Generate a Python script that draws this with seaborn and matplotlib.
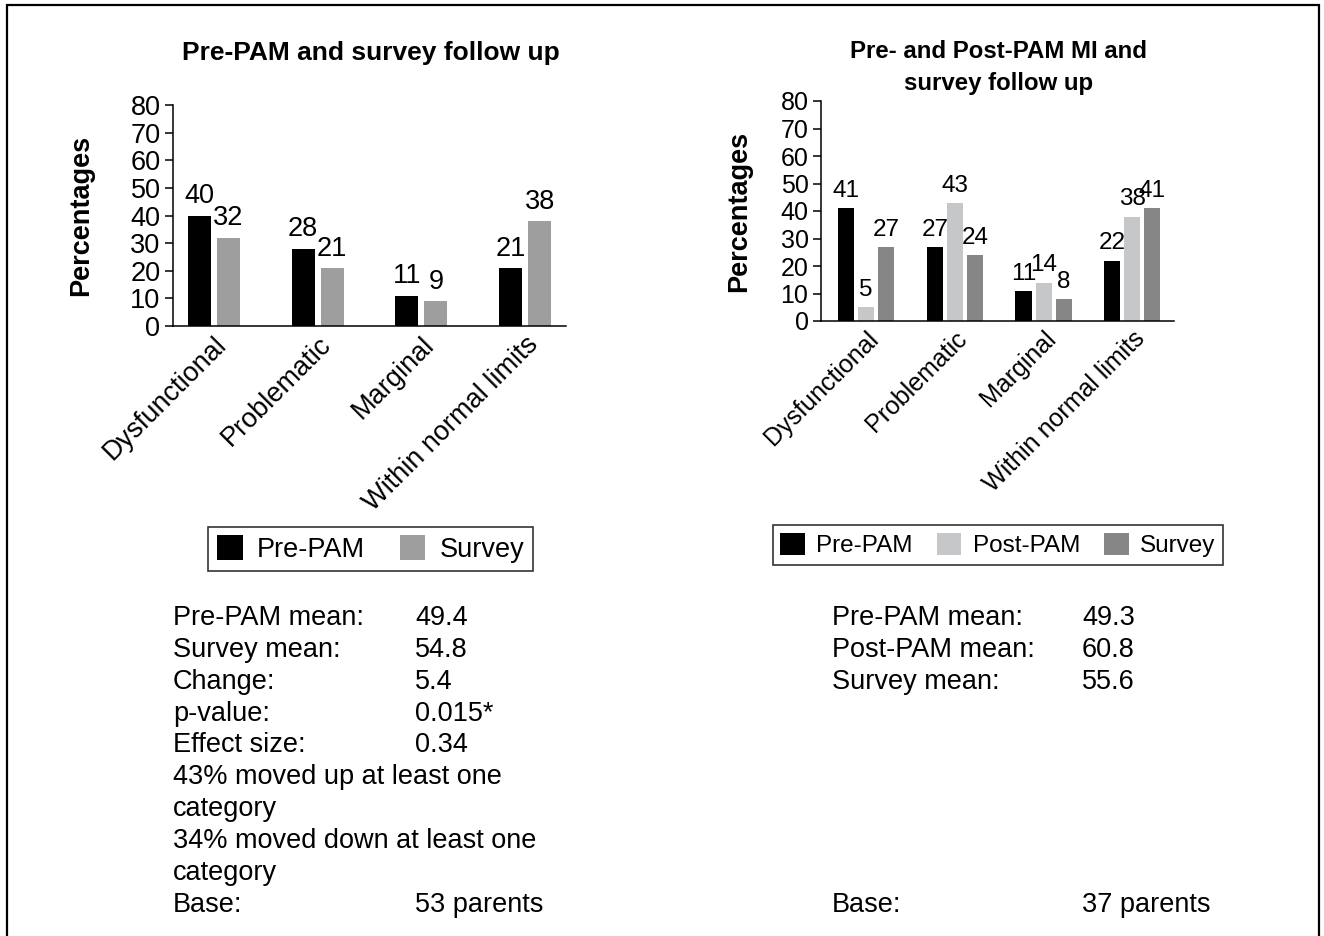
import matplotlib
matplotlib.use("Agg")
import matplotlib.pyplot as plt
from matplotlib.patches import Patch, Rectangle
import pandas as pd
import seaborn as sns

# ---- data ----
categories = ["Dysfunctional", "Problematic", "Marginal", "Within normal limits"]

left_series = ["Pre-PAM", "Survey"]
left_pre = [40, 28, 11, 21]
left_survey = [32, 21, 9, 38]
left_colors = ["#000000", "#9e9e9e"]

right_series = ["Pre-PAM", "Post-PAM", "Survey"]
right_pre = [41, 27, 11, 22]
right_post = [5, 43, 14, 38]
right_survey = [27, 24, 8, 41]
right_colors = ["#000000", "#c6c7c8", "#868686"]

left_title = ["Pre-PAM and survey follow up"]
right_title = ["Pre- and Post-PAM MI and", "survey follow up"]

left_labels = ["Pre-PAM mean:", "Survey mean:", "Change:", "p-value:", "Effect size:",
               "43% moved up at least one", "category",
               "34% moved down at least one", "category", "Base:"]
left_values = ["49.4", "54.8", "5.4", "0.015*", "0.34", "", "", "", "", "53 parents"]

right_labels = ["Pre-PAM mean:", "Post-PAM mean:", "Survey mean:", "", "", "", "", "", "", "Base:"]
right_values = ["49.3", "60.8", "55.6", "", "", "", "", "", "", "37 parents"]

W, H = 1324, 936
FS = 19.5

sns.set_theme(style="white")
plt.rcParams["font.family"] = ["Liberation Sans", "DejaVu Sans"]
plt.rcParams["text.color"] = "black"
plt.rcParams["axes.labelcolor"] = "black"
plt.rcParams["xtick.color"] = "black"
plt.rcParams["ytick.color"] = "black"


def long_frame(series, columns):
    rows = []
    for name, vals in zip(series, columns):
        for cat, v in zip(categories, vals):
            rows.append({"category": cat, "series": name, "value": v})
    return pd.DataFrame(rows)


def draw_panel(ax, df, series, colors, width, gap, xlim, fs, bar_fs):
    sns.barplot(data=df, x="category", y="value", hue="series", order=categories,
                hue_order=series, palette=colors, width=width, gap=gap,
                linewidth=0, legend=False, ax=ax)
    for cont, name in zip(ax.containers, series):
        vals = df[df["series"] == name]["value"].tolist()
        ax.bar_label(cont, labels=[str(v) for v in vals], padding=4.5,
                     fontsize=bar_fs, color="black")
    ax.set_ylim(0, 80)
    ax.set_yticks(range(0, 81, 10))
    ax.set_xlim(*xlim)
    ax.set_xlabel("")
    ax.set_ylabel("Percentages", fontsize=FS, fontweight="bold")
    ax.yaxis.set_label_coords(-0.2, 0.5)
    sns.despine(ax=ax)
    for s in ["left", "bottom"]:
        ax.spines[s].set_color("black")
        ax.spines[s].set_linewidth(1.1)
    ax.tick_params(axis="y", left=True, length=6, width=1.1, pad=3, labelsize=fs)
    ax.tick_params(axis="x", bottom=False, length=0, pad=4)
    ax.set_xticks(range(len(categories)))
    ax.set_xticklabels(categories, rotation=45, ha="right", va="top",
                       rotation_mode="anchor", fontsize=fs)


fig = plt.figure(figsize=(W / 100, H / 100), dpi=100)
fig.patch.set_facecolor("white")

ax1 = fig.add_axes([173 / W, 1 - 326 / H, 393 / W, 221 / H])
ax2 = fig.add_axes([821 / W, 1 - 321 / H, 353 / W, 220 / H])

draw_panel(ax1, long_frame(left_series, [left_pre, left_survey]),
           left_series, left_colors, 0.56, 0.21, (-0.395, 3.395), FS, FS)
draw_panel(ax2, long_frame(right_series, [right_pre, right_post, right_survey]),
           right_series, right_colors, 0.68, 0.2, (-0.51, 3.47), 18, 17.5)
ax2.yaxis.set_label_coords(-0.195, 0.5)

# titles
for i, line in enumerate(left_title):
    fig.text(371 / W, 1 - (60 + 32 * i) / H, line, ha="center", va="baseline",
             fontsize=19, fontweight="bold")
for i, line in enumerate(right_title):
    fig.text(999 / W, 1 - (58 + 32 * i) / H, line, ha="center", va="baseline",
             fontsize=17.3, fontweight="bold")

# legends
legend_specs = [
    (left_series, left_colors, 370.5, 549, FS, 0.95, 0.52, 1.28),
    (right_series, right_colors, 998, 545, 17.5, 1.0, 0.47, 1.0),
]
for series, colors, cx, cy, lfs, hl, htp, cs in legend_specs:
    handles = [Patch(facecolor=c, edgecolor="none") for c in colors]
    leg = fig.legend(handles, series, loc="center", bbox_to_anchor=(cx / W, 1 - cy / H),
                     ncol=len(series), frameon=True, fancybox=False, edgecolor="black",
                     handlelength=hl, handleheight=1.0, handletextpad=htp,
                     columnspacing=cs, borderpad=0.32, fontsize=lfs)
    leg.get_frame().set_linewidth(1.2)

# statistics text
step = 31.85
for labels, values, xl, xv in [(left_labels, left_values, 173, 415),
                               (right_labels, right_values, 832, 1082)]:
    for i, (lab, val) in enumerate(zip(labels, values)):
        y = 1 - (625 + step * i) / H
        if lab:
            fig.text(xl / W, y, lab, ha="left", va="baseline", fontsize=FS)
        if val:
            fig.text(xv / W, y, val, ha="left", va="baseline", fontsize=FS)

# outer frame
fig.add_artist(Rectangle((7 / W, -0.02), 1312 / W, 1 - 5 / H + 0.02,
                         transform=fig.transFigure, fill=False,
                         edgecolor="black", linewidth=1.6))

fig.savefig("out.png", dpi=100)
